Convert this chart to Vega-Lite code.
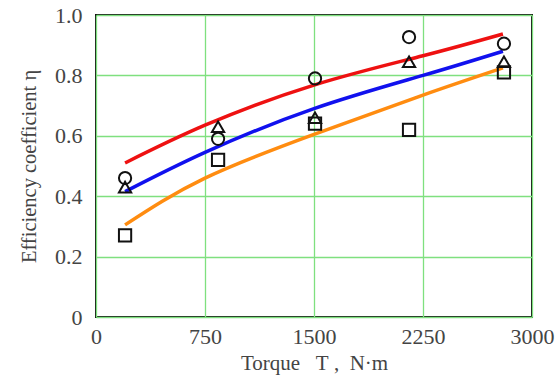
{
  "$schema": "https://vega.github.io/schema/vega-lite/v6.json",
  "width": 436,
  "height": 302,
  "autosize": "none",
  "padding": {"left": 96, "top": 15, "right": 23, "bottom": 61},
  "background": "white",
  "config": {
    "view": {"stroke": "#111", "strokeWidth": 2},
    "font": "Liberation Serif",
    "axis": {
      "labelFont": "Liberation Serif",
      "labelFontSize": 22,
      "labelColor": "#444",
      "titleFont": "Liberation Serif",
      "titleFontWeight": "normal",
      "titleColor": "#444",
      "domain": false,
      "ticks": false,
      "gridColor": "#7fe07f",
      "gridWidth": 1.3,
      "gridOpacity": 1
    }
  },
  "datasets": {
    "lines": [
      {"T": 200, "eta": 0.51, "s": "red"},
      {"T": 750, "eta": 0.635, "s": "red"},
      {"T": 1500, "eta": 0.768, "s": "red"},
      {"T": 2250, "eta": 0.865, "s": "red"},
      {"T": 2800, "eta": 0.937, "s": "red"},
      {"T": 200, "eta": 0.415, "s": "blue"},
      {"T": 750, "eta": 0.545, "s": "blue"},
      {"T": 1500, "eta": 0.69, "s": "blue"},
      {"T": 2250, "eta": 0.8, "s": "blue"},
      {"T": 2800, "eta": 0.88, "s": "blue"},
      {"T": 200, "eta": 0.305, "s": "orange"},
      {"T": 750, "eta": 0.46, "s": "orange"},
      {"T": 1500, "eta": 0.605, "s": "orange"},
      {"T": 2250, "eta": 0.735, "s": "orange"},
      {"T": 2800, "eta": 0.825, "s": "orange"}
    ],
    "points": [
      {"T": 200, "eta": 0.46, "m": "circle"},
      {"T": 840, "eta": 0.59, "m": "circle"},
      {"T": 1507, "eta": 0.79, "m": "circle"},
      {"T": 2154, "eta": 0.927, "m": "circle"},
      {"T": 2807, "eta": 0.905, "m": "circle"},
      {"T": 200, "eta": 0.43, "m": "triangle-up"},
      {"T": 840, "eta": 0.63, "m": "triangle-up"},
      {"T": 1507, "eta": 0.66, "m": "triangle-up"},
      {"T": 2154, "eta": 0.845, "m": "triangle-up"},
      {"T": 2807, "eta": 0.845, "m": "triangle-up"},
      {"T": 200, "eta": 0.27, "m": "square"},
      {"T": 840, "eta": 0.52, "m": "square"},
      {"T": 1507, "eta": 0.64, "m": "square"},
      {"T": 2154, "eta": 0.62, "m": "square"},
      {"T": 2807, "eta": 0.81, "m": "square"}
    ]
  },
  "layer": [
    {
      "data": {"name": "lines"},
      "mark": {"type": "line", "strokeWidth": 3.5, "interpolate": "natural"},
      "encoding": {
        "x": {
          "field": "T", "type": "quantitative",
          "scale": {"domain": [0, 3000], "nice": false},
          "axis": {"values": [0, 750, 1500, 2250, 3000], "format": "d", "title": "Torque\u00a0\u00a0\u00a0T\u00a0,\u00a0\u00a0N·m", "titleFontSize": 21, "labelPadding": 9, "titlePadding": 5, "labelFlush": false, "labelOverlap": false}
        },
        "y": {
          "field": "eta", "type": "quantitative",
          "scale": {"domain": [0, 1], "nice": false},
          "axis": {"values": [0, 0.2, 0.4, 0.6, 0.8, 1.0], "labelExpr": "datum.value == 0 ? '0' : format(datum.value, '.1f')", "title": "Efficiency coefficient η", "titleFontSize": 20.5, "labelPadding": 14, "titlePadding": 15, "labelFlush": false, "labelOverlap": false}
        },
        "color": {
          "field": "s", "type": "nominal",
          "scale": {"domain": ["red", "blue", "orange"], "range": ["#ee1111", "#1111ee", "#ff8c10"]},
          "legend": null
        },
        "detail": {"field": "s"}
      }
    },
    {
      "data": {"name": "points"},
      "mark": {"type": "point", "filled": false, "stroke": "#111", "strokeWidth": 2, "size": 150, "opacity": 1},
      "encoding": {
        "x": {"field": "T", "type": "quantitative"},
        "y": {"field": "eta", "type": "quantitative"},
        "shape": {
          "field": "m", "type": "nominal",
          "scale": {"domain": ["circle", "triangle-up", "square"], "range": ["circle", "triangle-up", "square"]},
          "legend": null
        }
      }
    }
  ]
}
